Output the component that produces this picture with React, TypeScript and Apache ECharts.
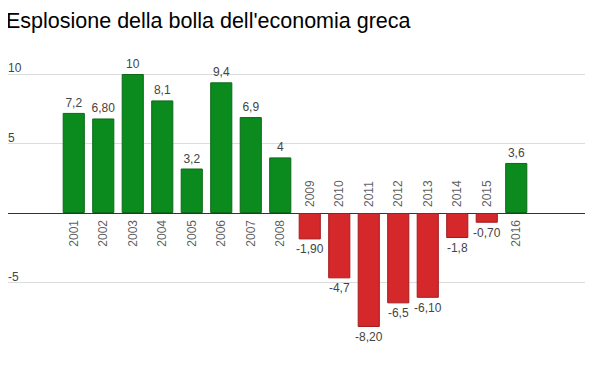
import React, { useEffect, useRef } from "react";
import * as echarts from "echarts";

const years = ["2001","2002","2003","2004","2005","2006","2007","2008","2009","2010","2011","2012","2013","2014","2015","2016"];
const values = [7.2, 6.8, 10, 8.1, 3.2, 9.4, 6.9, 4, -1.9, -4.7, -8.2, -6.5, -6.1, -1.8, -0.7, 3.6];
const valueLabels = ["7,2","6,80","10","8,1","3,2","9,4","6,9","4","-1,90","-4,7","-8,20","-6,5","-6,10","-1,8","-0,70","3,6"];
const yTicks = [-10, -5, 0, 5, 10];
const yTickLabels = ["", "-5", "", "5", "10"];

const FONT = "Arial, 'Liberation Sans', sans-serif";
const GREEN = "#0b8a1e";
const GREEN_BORDER = "#0a6a17";
const RED = "#d5282b";
const RED_BORDER = "#a01c1f";

export default function App() {
  const ref = useRef<HTMLDivElement>(null);
  useEffect(() => {
    if (!ref.current) return;
    const chart = echarts.init(ref.current, undefined, { renderer: "svg" });
    const top = 74;
    const bottom = 28;
    chart.setOption({
      animation: false,
      title: {
        text: "Esplosione della bolla dell'economia greca",
        left: 1,
        top: 5,
        textStyle: { fontFamily: FONT, fontSize: 21.5, fontWeight: "normal", color: "#000" },
      },
      grid: [
        { left: 6, right: 15, top, bottom },
        { left: 59, right: 69, top, bottom },
      ],
      xAxis: [
        { type: "value", gridIndex: 0, show: false, min: 0, max: 1 },
        {
          type: "category",
          gridIndex: 1,
          data: years,
          axisLine: { show: false },
          axisTick: { show: false },
          axisLabel: { show: false },
          splitLine: { show: false },
        },
      ],
      yAxis: [
        {
          type: "value",
          gridIndex: 0,
          min: -10,
          max: 10,
          interval: 5,
          axisLine: { show: false },
          axisTick: { show: false },
          axisLabel: {
            inside: true,
            margin: 2,
            verticalAlign: "bottom",
            color: "#444",
            fontFamily: FONT,
            fontSize: 12,
            formatter: (v: number) => {
              const i = yTicks.indexOf(v);
              return i >= 0 ? yTickLabels[i] : "";
            },
          },
          splitLine: {
            show: true,
            lineStyle: { color: ["rgba(0,0,0,0)", "#dcdcdc", "#333", "#dcdcdc", "#dcdcdc"], width: 1 },
          },
        },
        {
          type: "value",
          gridIndex: 1,
          min: -10,
          max: 10,
          interval: 5,
          show: false,
          splitLine: { show: false },
        },
      ],
      series: [
        {
          type: "bar",
          xAxisIndex: 1,
          yAxisIndex: 1,
          barCategoryGap: "25%",
          data: values.map((v, i) => ({
            value: v,
            itemStyle: {
              color: v >= 0 ? GREEN : RED,
              borderColor: v >= 0 ? GREEN_BORDER : RED_BORDER,
              borderWidth: 1,
            },
            label: {
              show: true,
              position: v >= 0 ? "top" : "bottom",
              distance: 4,
              formatter: valueLabels[i],
              color: "#444",
              fontFamily: FONT,
              fontSize: 12,
            },
          })),
        },
        {
          type: "scatter",
          xAxisIndex: 1,
          yAxisIndex: 1,
          symbolSize: 0,
          silent: true,
          data: values.map((v, i) => ({
            value: [years[i], 0],
            label: {
              show: true,
              formatter: years[i],
              position: v >= 0 ? "bottom" : "top",
              distance: v >= 0 ? 7 : 6,
              rotate: 90,
              align: v >= 0 ? "right" : "left",
              verticalAlign: "middle",
              color: "#333",
              fontFamily: FONT,
              fontSize: 12,
            },
          })),
        },
      ],
    });
    return () => chart.dispose();
  }, []);
  return <div ref={ref} style={{ width: 600, height: 380, margin: -8 }} />;
}
